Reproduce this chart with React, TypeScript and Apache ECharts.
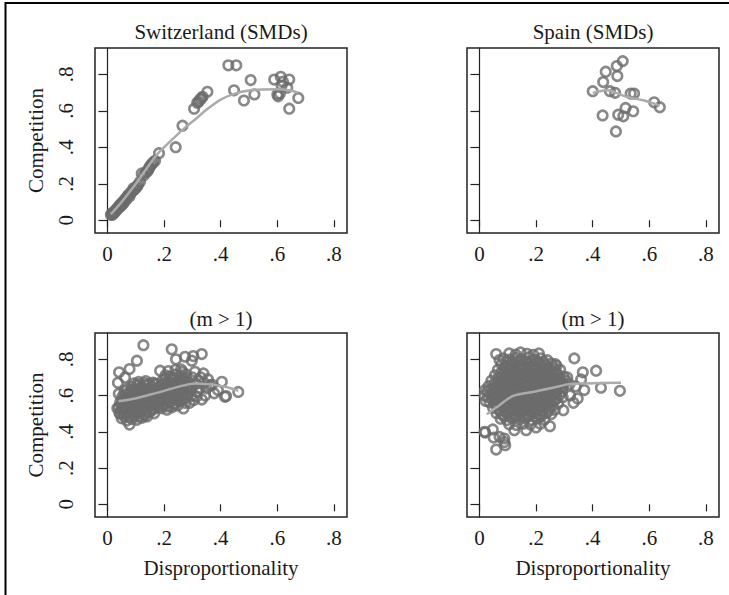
import React, { useEffect, useRef } from "react";
import * as echarts from "echarts";

// ---------- data ----------
const xTickValues = [0, 0.2, 0.4, 0.6, 0.8];
const yTickValues = [0, 0.2, 0.4, 0.6, 0.8];
const tickText = (v: number) => (v === 0 ? "0" : "." + Math.round(v * 10));

const panelTitles = ["Switzerland (SMDs)", "Spain (SMDs)", "(m > 1)", "(m > 1)"];
const yAxisTitle = "Competition";
const xAxisTitle = "Disproportionality";

const swissPoints: [number, number][] = [
  [0.012, 0.030], [0.015, 0.035], [0.018, 0.030], [0.020, 0.042], [0.022, 0.038],
  [0.025, 0.050], [0.027, 0.045], [0.030, 0.055], [0.032, 0.062], [0.035, 0.060],
  [0.038, 0.072], [0.040, 0.068], [0.042, 0.080], [0.045, 0.085], [0.048, 0.078],
  [0.050, 0.095], [0.053, 0.090], [0.056, 0.092], [0.058, 0.105], [0.062, 0.115],
  [0.065, 0.110], [0.068, 0.125], [0.072, 0.135], [0.075, 0.140], [0.078, 0.130],
  [0.082, 0.150], [0.085, 0.155], [0.088, 0.160], [0.092, 0.175], [0.096, 0.168],
  [0.100, 0.180], [0.104, 0.184], [0.108, 0.195], [0.115, 0.211], [0.121, 0.257],
  [0.128, 0.245], [0.135, 0.262], [0.141, 0.267], [0.145, 0.280], [0.148, 0.289],
  [0.152, 0.300], [0.157, 0.309], [0.162, 0.318], [0.168, 0.327], [0.182, 0.368],
  [0.241, 0.401], [0.265, 0.519], [0.306, 0.612], [0.317, 0.644], [0.322, 0.650],
  [0.327, 0.662], [0.332, 0.670], [0.336, 0.677], [0.353, 0.705],
  [0.427, 0.850], [0.455, 0.850], [0.506, 0.769], [0.447, 0.713], [0.482, 0.657],
  [0.519, 0.690], [0.589, 0.772], [0.612, 0.787], [0.642, 0.772], [0.615, 0.739],
  [0.635, 0.727], [0.603, 0.680], [0.609, 0.695], [0.642, 0.612], [0.674, 0.671],
  [0.600, 0.690], [0.620, 0.760],
];
const swissFit: [number, number][] = [
  [0.012, 0.033], [0.05, 0.100], [0.10, 0.200], [0.174, 0.359], [0.22, 0.430],
  [0.268, 0.500], [0.315, 0.560], [0.35, 0.607], [0.40, 0.662], [0.45, 0.695],
  [0.50, 0.712], [0.55, 0.717], [0.60, 0.718], [0.64, 0.713], [0.674, 0.700],
];

const spainPoints: [number, number][] = [
  [0.506, 0.873], [0.485, 0.846], [0.446, 0.815], [0.487, 0.791], [0.437, 0.758],
  [0.400, 0.708], [0.461, 0.708], [0.479, 0.699], [0.534, 0.695], [0.546, 0.695],
  [0.617, 0.647], [0.637, 0.620], [0.516, 0.616], [0.543, 0.598], [0.435, 0.575],
  [0.490, 0.579], [0.508, 0.570], [0.482, 0.487],
];
const spainFit: [number, number][] = [
  [0.400, 0.699], [0.449, 0.713], [0.520, 0.677], [0.578, 0.658], [0.637, 0.629],
];

const bottomLeftPoints: [number, number][] = [
  // scattered
  [0.127, 0.878], [0.227, 0.855], [0.104, 0.792], [0.041, 0.728], [0.078, 0.746],
  [0.037, 0.670], [0.062, 0.700], [0.242, 0.800], [0.274, 0.814], [0.303, 0.818],
  [0.333, 0.829], [0.298, 0.792], [0.260, 0.744], [0.309, 0.731], [0.339, 0.722],
  [0.321, 0.685], [0.404, 0.676], [0.462, 0.620], [0.415, 0.593], [0.377, 0.612],
  [0.333, 0.578], [0.268, 0.529], [0.078, 0.440], [0.186, 0.737], [0.362, 0.657],
  [0.350, 0.640], [0.390, 0.630], [0.370, 0.660], [0.345, 0.600], [0.318, 0.620],
  [0.330, 0.700], [0.040, 0.610], [0.035, 0.530], [0.045, 0.500], [0.419, 0.597],
  [0.312, 0.665], [0.325, 0.640], [0.340, 0.670], [0.355, 0.690], [0.300, 0.700],
  [0.315, 0.595], [0.290, 0.560], [0.305, 0.575],
  // dense cloud
  [0.050, 0.475], [0.068, 0.462], [0.086, 0.470], [0.104, 0.466], [0.122, 0.478], [0.140, 0.485],
  [0.042, 0.505], [0.060, 0.498], [0.077, 0.508], [0.095, 0.495], [0.113, 0.503], [0.131, 0.498],
  [0.149, 0.510], [0.165, 0.502],
  [0.040, 0.535], [0.057, 0.528], [0.075, 0.538], [0.092, 0.525], [0.110, 0.534], [0.128, 0.530],
  [0.146, 0.540], [0.163, 0.528], [0.178, 0.535],
  [0.045, 0.565], [0.062, 0.555], [0.080, 0.562], [0.098, 0.568], [0.116, 0.556], [0.134, 0.565],
  [0.152, 0.558], [0.170, 0.566],
  [0.052, 0.592], [0.070, 0.585], [0.088, 0.596], [0.106, 0.588], [0.124, 0.595], [0.142, 0.586],
  [0.160, 0.598], [0.176, 0.590],
  [0.060, 0.625], [0.078, 0.616], [0.096, 0.628], [0.114, 0.620], [0.132, 0.626], [0.150, 0.615],
  [0.168, 0.628],
  [0.085, 0.648], [0.103, 0.655], [0.121, 0.645], [0.139, 0.658], [0.157, 0.650], [0.172, 0.662],
  [0.110, 0.675], [0.135, 0.680], [0.160, 0.672],
  [0.190, 0.530], [0.210, 0.522], [0.228, 0.535], [0.248, 0.545],
  [0.185, 0.560], [0.203, 0.555], [0.221, 0.565], [0.239, 0.558], [0.257, 0.568], [0.275, 0.560],
  [0.188, 0.592], [0.206, 0.585], [0.224, 0.596], [0.242, 0.588], [0.260, 0.595], [0.278, 0.586],
  [0.296, 0.598],
  [0.184, 0.625], [0.202, 0.618], [0.220, 0.628], [0.238, 0.620], [0.256, 0.626], [0.274, 0.615],
  [0.292, 0.628],
  [0.190, 0.655], [0.208, 0.648], [0.226, 0.658], [0.244, 0.650], [0.262, 0.660], [0.280, 0.652],
  [0.298, 0.645],
  [0.195, 0.685], [0.213, 0.678], [0.231, 0.688], [0.249, 0.680], [0.267, 0.690], [0.285, 0.676],
  [0.205, 0.712], [0.223, 0.705], [0.241, 0.715], [0.259, 0.708], [0.277, 0.718],
  [0.215, 0.735], [0.240, 0.742], [0.265, 0.730],
  // cloud core
  [0.059, 0.487], [0.077, 0.482], [0.095, 0.486], [0.113, 0.483], [0.131, 0.488],
  [0.051, 0.517], [0.069, 0.512], [0.086, 0.518], [0.104, 0.514], [0.122, 0.517], [0.140, 0.512],
  [0.157, 0.519],
  [0.049, 0.547], [0.066, 0.542], [0.084, 0.548], [0.101, 0.544], [0.119, 0.547], [0.137, 0.542],
  [0.155, 0.549], [0.172, 0.545], [0.195, 0.545], [0.213, 0.540], [0.232, 0.548],
  [0.054, 0.577], [0.071, 0.572], [0.089, 0.578], [0.107, 0.574], [0.125, 0.577], [0.143, 0.572],
  [0.161, 0.579], [0.179, 0.575], [0.194, 0.576], [0.212, 0.571], [0.230, 0.579], [0.248, 0.574],
  [0.266, 0.577],
  [0.061, 0.607], [0.079, 0.602], [0.097, 0.608], [0.115, 0.604], [0.133, 0.607], [0.151, 0.602],
  [0.169, 0.609], [0.193, 0.606], [0.211, 0.601], [0.229, 0.609], [0.247, 0.604], [0.265, 0.607],
  [0.283, 0.602],
  [0.069, 0.637], [0.087, 0.632], [0.105, 0.638], [0.123, 0.634], [0.141, 0.637], [0.159, 0.632],
  [0.177, 0.639], [0.193, 0.636], [0.211, 0.631], [0.229, 0.639], [0.247, 0.634], [0.265, 0.637],
  [0.283, 0.632],
  [0.094, 0.667], [0.112, 0.662], [0.130, 0.668], [0.148, 0.664], [0.166, 0.667], [0.199, 0.666],
  [0.217, 0.661], [0.235, 0.669], [0.253, 0.664], [0.271, 0.667], [0.289, 0.662],
  [0.204, 0.697], [0.222, 0.692], [0.240, 0.698], [0.258, 0.694], [0.276, 0.699],
];
const bottomLeftFit: [number, number][] = [
  [0.039, 0.569], [0.098, 0.584], [0.168, 0.612], [0.250, 0.648], [0.309, 0.667],
  [0.356, 0.663], [0.415, 0.648], [0.462, 0.626],
];

const bottomRightPoints: [number, number][] = [
  // scattered
  [0.059, 0.829], [0.071, 0.796], [0.335, 0.805], [0.268, 0.773], [0.365, 0.728],
  [0.412, 0.737], [0.359, 0.689], [0.370, 0.630], [0.429, 0.643], [0.496, 0.626],
  [0.347, 0.584], [0.332, 0.560], [0.296, 0.519], [0.249, 0.431], [0.200, 0.424],
  [0.165, 0.409], [0.123, 0.409], [0.018, 0.400], [0.047, 0.413], [0.071, 0.372],
  [0.088, 0.344], [0.020, 0.396], [0.050, 0.368], [0.088, 0.363], [0.091, 0.326],
  [0.059, 0.302], [0.320, 0.600], [0.340, 0.650], [0.310, 0.700],
  [0.018, 0.600], [0.020, 0.630], [0.022, 0.570],
  // dense cloud
  [0.105, 0.832], [0.128, 0.826], [0.145, 0.838], [0.168, 0.830], [0.190, 0.825], [0.210, 0.832],
  [0.085, 0.805], [0.107, 0.798], [0.129, 0.808], [0.151, 0.800], [0.173, 0.810], [0.195, 0.798],
  [0.217, 0.805], [0.240, 0.795],
  [0.078, 0.772], [0.100, 0.766], [0.122, 0.776], [0.144, 0.768], [0.166, 0.778], [0.188, 0.766],
  [0.210, 0.774], [0.232, 0.768], [0.254, 0.776], [0.272, 0.764],
  [0.065, 0.742], [0.087, 0.735], [0.109, 0.745], [0.131, 0.738], [0.153, 0.746], [0.175, 0.735],
  [0.197, 0.744], [0.219, 0.738], [0.241, 0.746], [0.263, 0.736], [0.285, 0.742],
  [0.055, 0.712], [0.077, 0.705], [0.099, 0.715], [0.121, 0.708], [0.143, 0.716], [0.165, 0.705],
  [0.187, 0.714], [0.209, 0.706], [0.231, 0.715], [0.253, 0.708], [0.275, 0.716], [0.297, 0.705],
  [0.042, 0.682], [0.064, 0.675], [0.086, 0.685], [0.108, 0.678], [0.130, 0.686], [0.152, 0.675],
  [0.174, 0.684], [0.196, 0.676], [0.218, 0.685], [0.240, 0.678], [0.262, 0.686], [0.284, 0.675],
  [0.306, 0.682],
  [0.032, 0.652], [0.054, 0.645], [0.076, 0.655], [0.098, 0.648], [0.120, 0.656], [0.142, 0.645],
  [0.164, 0.654], [0.186, 0.646], [0.208, 0.655], [0.230, 0.648], [0.252, 0.656], [0.274, 0.645],
  [0.296, 0.654], [0.318, 0.662],
  [0.028, 0.622], [0.050, 0.615], [0.072, 0.625], [0.094, 0.618], [0.116, 0.626], [0.138, 0.615],
  [0.160, 0.624], [0.182, 0.616], [0.204, 0.625], [0.226, 0.618], [0.248, 0.626], [0.270, 0.615],
  [0.292, 0.624],
  [0.030, 0.592], [0.052, 0.585], [0.074, 0.595], [0.096, 0.588], [0.118, 0.596], [0.140, 0.585],
  [0.162, 0.594], [0.184, 0.586], [0.206, 0.595], [0.228, 0.588], [0.250, 0.596], [0.272, 0.585],
  [0.294, 0.590],
  [0.036, 0.562], [0.058, 0.555], [0.080, 0.565], [0.102, 0.558], [0.124, 0.566], [0.146, 0.555],
  [0.168, 0.564], [0.190, 0.556], [0.212, 0.565], [0.234, 0.558], [0.256, 0.566], [0.278, 0.556],
  [0.048, 0.532], [0.070, 0.525], [0.092, 0.535], [0.114, 0.528], [0.136, 0.536], [0.158, 0.525],
  [0.180, 0.534], [0.202, 0.526], [0.224, 0.535], [0.246, 0.528], [0.266, 0.522],
  [0.060, 0.502], [0.082, 0.495], [0.104, 0.505], [0.126, 0.498], [0.148, 0.506], [0.170, 0.495],
  [0.192, 0.504], [0.214, 0.496], [0.236, 0.505], [0.254, 0.498],
  [0.075, 0.472], [0.097, 0.465], [0.119, 0.475], [0.141, 0.468], [0.163, 0.476], [0.185, 0.465],
  [0.207, 0.474], [0.229, 0.466],
  [0.105, 0.442], [0.130, 0.438], [0.155, 0.445], [0.180, 0.440], [0.215, 0.445],
  // cloud core
  [0.096, 0.790], [0.118, 0.787], [0.140, 0.792], [0.162, 0.786], [0.184, 0.791], [0.206, 0.788],
  [0.228, 0.784],
  [0.089, 0.756], [0.111, 0.752], [0.133, 0.758], [0.155, 0.754], [0.177, 0.757], [0.199, 0.751],
  [0.221, 0.756], [0.243, 0.753], [0.265, 0.750],
  [0.076, 0.726], [0.098, 0.722], [0.120, 0.728], [0.142, 0.724], [0.164, 0.727], [0.186, 0.721],
  [0.208, 0.726], [0.230, 0.723], [0.252, 0.727], [0.274, 0.722],
  [0.066, 0.696], [0.088, 0.692], [0.110, 0.698], [0.132, 0.694], [0.154, 0.697], [0.176, 0.691],
  [0.198, 0.696], [0.220, 0.693], [0.242, 0.697], [0.264, 0.692], [0.286, 0.695],
  [0.053, 0.666], [0.075, 0.662], [0.097, 0.668], [0.119, 0.664], [0.141, 0.667], [0.163, 0.661],
  [0.185, 0.666], [0.207, 0.663], [0.229, 0.667], [0.251, 0.662], [0.273, 0.665], [0.295, 0.668],
  [0.043, 0.636], [0.065, 0.632], [0.087, 0.638], [0.109, 0.634], [0.131, 0.637], [0.153, 0.631],
  [0.175, 0.636], [0.197, 0.633], [0.219, 0.637], [0.241, 0.632], [0.263, 0.635], [0.285, 0.638],
  [0.041, 0.606], [0.063, 0.602], [0.085, 0.608], [0.107, 0.604], [0.129, 0.607], [0.151, 0.601],
  [0.173, 0.606], [0.195, 0.603], [0.217, 0.607], [0.239, 0.602], [0.261, 0.605], [0.283, 0.603],
  [0.047, 0.576], [0.069, 0.572], [0.091, 0.578], [0.113, 0.574], [0.135, 0.577], [0.157, 0.571],
  [0.179, 0.576], [0.201, 0.573], [0.223, 0.577], [0.245, 0.572], [0.267, 0.575],
  [0.059, 0.546], [0.081, 0.542], [0.103, 0.548], [0.125, 0.544], [0.147, 0.547], [0.169, 0.541],
  [0.191, 0.546], [0.213, 0.543], [0.235, 0.547], [0.257, 0.542],
  [0.071, 0.516], [0.093, 0.512], [0.115, 0.518], [0.137, 0.514], [0.159, 0.517], [0.181, 0.511],
  [0.203, 0.516], [0.225, 0.513], [0.245, 0.515],
  [0.086, 0.486], [0.108, 0.482], [0.130, 0.488], [0.152, 0.484], [0.174, 0.487], [0.196, 0.481],
  [0.218, 0.486],
];
const bottomRightFit: [number, number][] = [
  [0.026, 0.497], [0.071, 0.547], [0.112, 0.593], [0.150, 0.610], [0.188, 0.620],
  [0.259, 0.643], [0.317, 0.663], [0.376, 0.667], [0.500, 0.670],
];

// ---------- layout / style ----------
const FONT = "Liberation Serif, Times New Roman, serif";
const W = 729;
const H = 595;
const grids = [
  { left: 95, top: 48, width: 252, height: 185 },
  { left: 467, top: 48, width: 252, height: 185 },
  { left: 95, top: 333, width: 252, height: 184 },
  { left: 467, top: 333, width: 252, height: 184 },
];
const MARKER = "#6b6b6b";
const FIT = "#ababab";

export default function App() {
  const ref = useRef<HTMLDivElement>(null);

  useEffect(() => {
    if (!ref.current) return;
    const chart = echarts.init(ref.current, null, { renderer: "svg" });
    const pointSets = [swissPoints, spainPoints, bottomLeftPoints, bottomRightPoints];
    const fitSets = [swissFit, spainFit, bottomLeftFit, bottomRightFit];

    const series: any[] = [];
    pointSets.forEach((pts, i) => {
      series.push({
        type: "scatter",
        xAxisIndex: i,
        yAxisIndex: i,
        data: pts,
        symbol: "circle",
        symbolSize: 9.5,
        itemStyle: { color: "rgba(0,0,0,0)", borderColor: MARKER, borderWidth: 2.6 },
        z: 2,
      });
      series.push({
        type: "line",
        xAxisIndex: i,
        yAxisIndex: i,
        data: fitSets[i],
        smooth: 0.3,
        showSymbol: false,
        symbol: "none",
        lineStyle: { color: FIT, width: 2.5 },
        z: 3,
      });
    });

    const option: any = {
      animation: false,
      backgroundColor: "#ffffff",
      grid: grids.map((g) => ({
        ...g,
        show: true,
        borderColor: "#222",
        borderWidth: 1.5,
        backgroundColor: "rgba(0,0,0,0)",
        containLabel: false,
      })),
      xAxis: grids.map((_, i) => ({
        type: "value",
        gridIndex: i,
        min: -0.044,
        max: 0.846,
        offset: 2,
        splitLine: { show: false },
        axisLine: { show: false },
        axisTick: {
          show: true,
          length: 7,
          customValues: xTickValues,
          lineStyle: { color: "#222", width: 1.2 },
        },
        axisLabel: {
          show: true,
          customValues: xTickValues,
          formatter: (v: number) => tickText(v),
          fontFamily: FONT,
          fontSize: 21,
          color: "#1a1a1a",
          margin: 8,
        },
      })),
      yAxis: grids.map((_, i) => ({
        type: "value",
        gridIndex: i,
        min: -0.07,
        max: 0.945,
        offset: 8,
        splitLine: { show: false },
        axisLine: { show: true, lineStyle: { color: "#222", width: 1.2 } },
        axisTick: {
          show: true,
          length: 9,
          customValues: yTickValues,
          lineStyle: { color: "#222", width: 1.2 },
        },
        axisLabel: {
          show: i % 2 === 0,
          customValues: yTickValues,
          formatter: (v: number) => tickText(v),
          rotate: 90,
          fontFamily: FONT,
          fontSize: 21,
          color: "#1a1a1a",
          margin: 11,
        },
      })),
      series,
      graphic: [
        {
          type: "polyline",
          shape: { points: [[5.5, H], [5.5, 3], [W, 3]] },
          style: { stroke: "#000", lineWidth: 2, fill: "none" },
          silent: true,
        },
        ...grids.map((g, i) => ({
          type: "text",
          x: g.left + g.width / 2,
          y: i < 2 ? 32 : 319,
          style: {
            text: panelTitles[i],
            fontFamily: FONT,
            fontSize: 21,
            fill: "#1a1a1a",
            align: "center",
            verticalAlign: "middle",
          },
        })),
        ...[grids[0], grids[2]].map((g) => ({
          type: "text",
          x: 36,
          y: g.top + g.height / 2,
          rotation: Math.PI / 2,
          style: {
            text: yAxisTitle,
            fontFamily: FONT,
            fontSize: 21,
            fill: "#1a1a1a",
            align: "center",
            verticalAlign: "middle",
          },
        })),
        ...[grids[2], grids[3]].map((g) => ({
          type: "text",
          x: g.left + g.width / 2,
          y: 568,
          style: {
            text: xAxisTitle,
            fontFamily: FONT,
            fontSize: 21,
            fill: "#1a1a1a",
            align: "center",
            verticalAlign: "middle",
          },
        })),
      ],
    };
    chart.setOption(option);
    return () => chart.dispose();
  }, []);

  return (
    <div
      ref={ref}
      style={{ position: "fixed", left: 0, top: 0, width: W, height: H, background: "#fff" }}
    />
  );
}
